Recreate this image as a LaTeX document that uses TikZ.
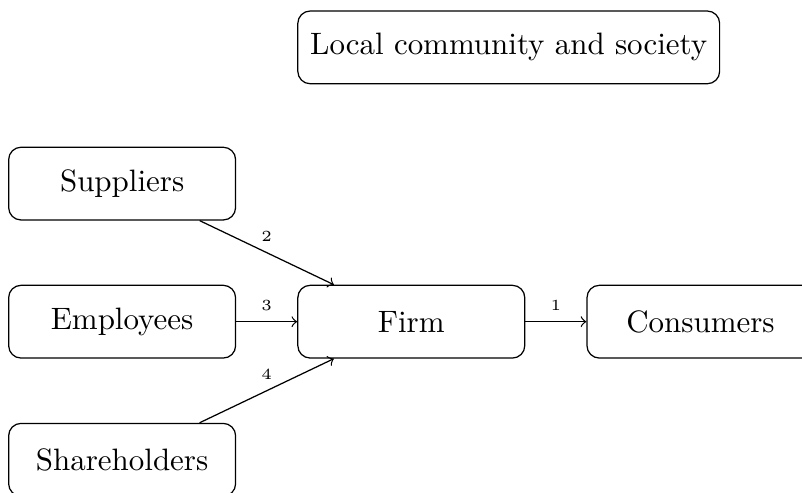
\documentclass[tikz,border=0pt]{standalone}
\usepackage{amsmath}
\usepackage{tikz}
\usetikzlibrary{positioning}

\begin{document}
\begin{tikzpicture}[>=to,
  party/.style={draw, rounded corners, minimum width=73.3pt, minimum height=23.5pt, inner xsep=4pt},
  flow/.style={font=\tiny, above},
  node distance=20.7pt and 19.7pt]
\useasboundingbox (-132.85pt, -55.3pt) rectangle (126.2pt, 103.9pt);
%%firm in the middle
\node[party] (firm) at (0,0) {Firm};
%upstream
\node[party, left=of firm] (employees) {Employees};
\node[party, above=of employees] (suppliers) {Suppliers};
\node[party, below=of employees] (shareholders) {Shareholders};
%downstream
\node[party, right=of firm] (consumers) {Consumers};
%society
\node[party, above=64.7pt of firm.north west, anchor=south west] (society)
     {Local community and society};
%flows
\draw[->] (firm) -- node[flow] {1} (consumers);
\draw[->] (suppliers) -- node[flow] {2} (firm);
\draw[->] (employees) -- node[flow] {3} (firm);
\draw[->] (shareholders) -- node[flow] {4} (firm);
\end{tikzpicture}
\end{document}
